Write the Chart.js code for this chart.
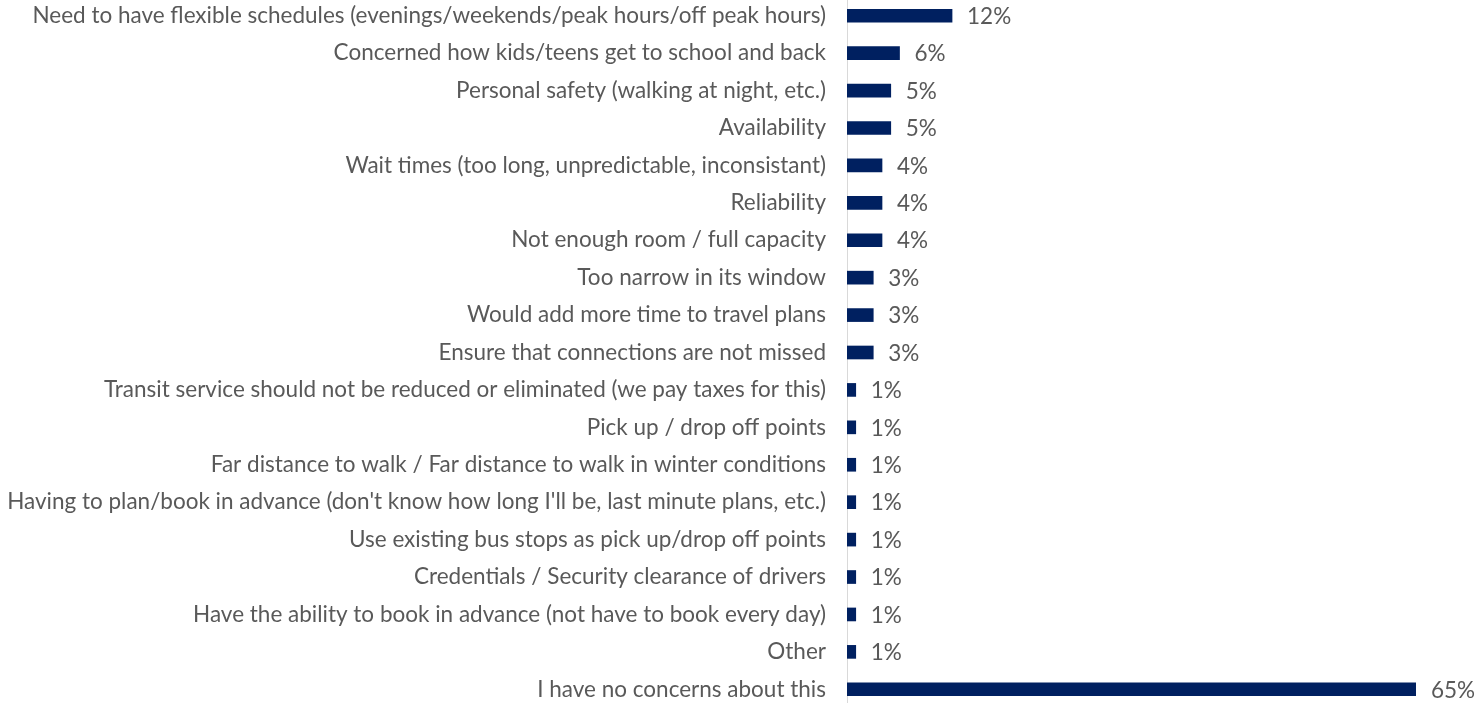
<!DOCTYPE html>
<html>
<head>
<meta charset="utf-8">
<script src="https://cdn.jsdelivr.net/npm/chart.js@4.4.1/dist/chart.umd.min.js"></script>
<style>
  html, body { margin: 0; padding: 0; background: #ffffff; overflow: hidden; }
  #wrap { position: absolute; left: 0; top: -3px; width: 1479px; height: 711px; }
</style>
</head>
<body>
<div id="wrap"><canvas id="chart"></canvas></div>
<script>
// Concerns raised about on-demand transit, share of respondents (%)
const categories = [
  "Need to have flexible schedules (evenings/weekends/peak hours/off peak hours)",
  "Concerned how kids/teens get to school and back",
  "Personal safety (walking at night, etc.)",
  "Availability",
  "Wait times (too long, unpredictable, inconsistant)",
  "Reliability",
  "Not enough room / full capacity",
  "Too narrow in its window",
  "Would add more time to travel plans",
  "Ensure that connections are not missed",
  "Transit service should not be reduced or eliminated (we pay taxes for this)",
  "Pick up / drop off points",
  "Far distance to walk / Far distance to walk in winter conditions",
  "Having to plan/book in advance (don't know how long I'll be, last minute plans, etc.)",
  "Use existing bus stops as pick up/drop off points",
  "Credentials / Security clearance of drivers",
  "Have the ability to book in advance (not have to book every day)",
  "Other",
  "I have no concerns about this"
];
const percentages = [12, 6, 5, 5, 4, 4, 4, 3, 3, 3, 1, 1, 1, 1, 1, 1, 1, 1, 65];

const FONT = "Lato";
const FONT_SIZE = 22.5;
const TEXT_COLOR = "#595959";
const BAR_COLOR = "#002060";

// Draws the "NN%" label just past the end of each bar
const valueLabels = {
  id: "valueLabels",
  afterDatasetsDraw(chart) {
    const ctx = chart.ctx;
    const meta = chart.getDatasetMeta(0);
    ctx.save();
    ctx.font = FONT_SIZE + "px " + FONT;
    ctx.fillStyle = TEXT_COLOR;
    ctx.textAlign = "left";
    ctx.textBaseline = "middle";
    meta.data.forEach((bar, i) => {
      ctx.fillText(percentages[i] + "%", bar.x + 15, bar.y + 1);
    });
    ctx.restore();
  }
};

new Chart(document.getElementById("chart"), {
  type: "bar",
  data: {
    labels: categories,
    datasets: [{
      data: percentages,
      backgroundColor: BAR_COLOR,
      barThickness: 13
    }]
  },
  options: {
    indexAxis: "y",
    responsive: true,
    maintainAspectRatio: false,
    animation: false,
    layout: { padding: { left: 0, right: 63, top: 0, bottom: 0 } },
    plugins: {
      legend: { display: false },
      tooltip: { enabled: false }
    },
    scales: {
      x: {
        display: false,
        min: 0,
        max: 65
      },
      y: {
        afterFit(scale) {
          scale.width = 847;
          scale.paddingTop = 0;
          scale.paddingBottom = 0;
        },
        grid: { display: false, drawTicks: false },
        border: { display: true, color: "#d9d9d9", width: 1 },
        ticks: {
          color: TEXT_COLOR,
          padding: 21,
          font: { family: FONT, size: FONT_SIZE },
          autoSkip: false
        }
      }
    }
  },
  plugins: [valueLabels]
});
</script>
</body>
</html>
